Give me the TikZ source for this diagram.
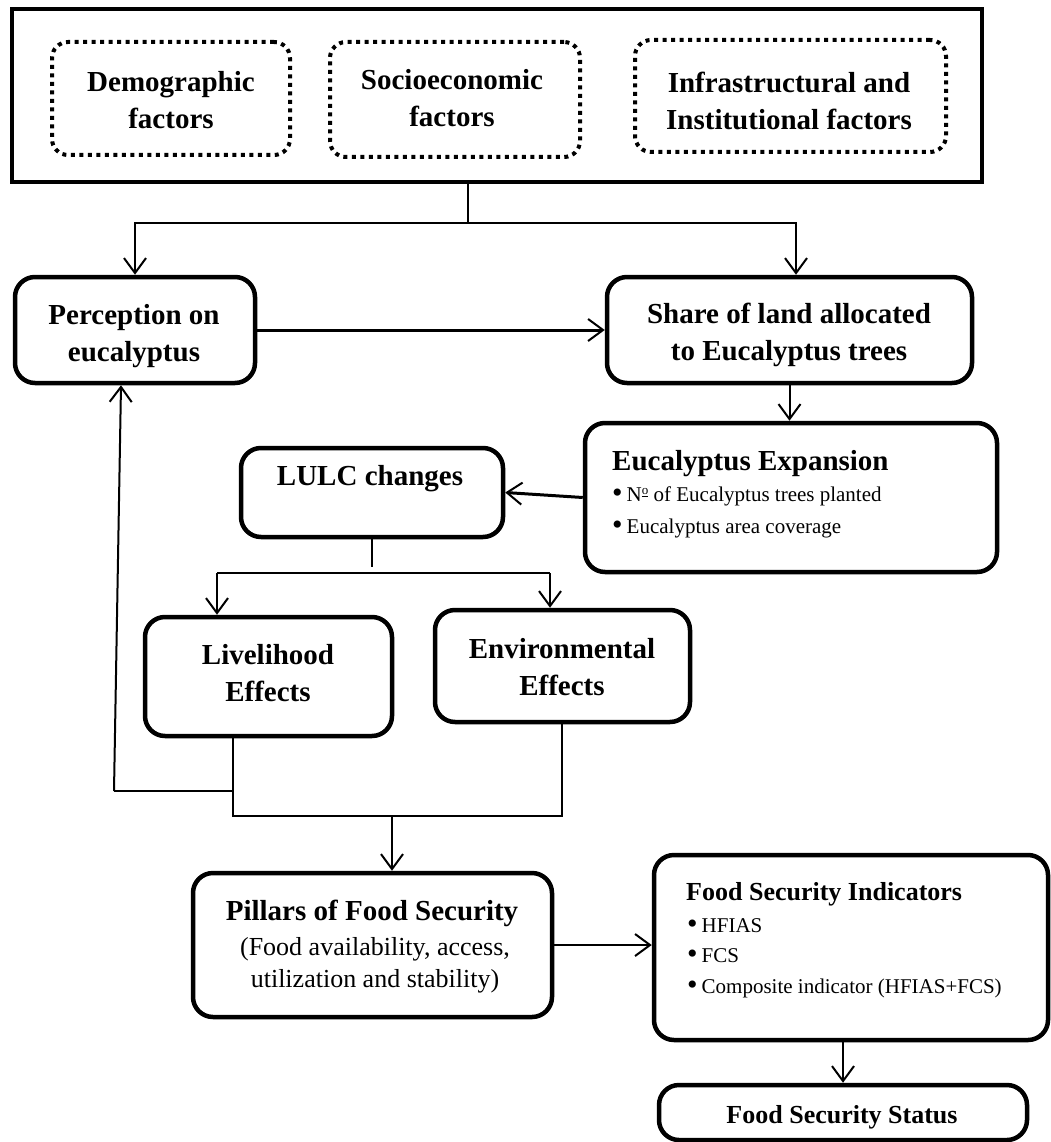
\documentclass[tikz,border=0pt]{standalone}
\usepackage{fontspec}
\setmainfont{Liberation Serif}
\usetikzlibrary{arrows.meta}
\newcommand{\bul}{\raisebox{-1pt}{\fontsize{30}{30}\selectfont\textbullet}\hspace{4pt}}
\newcommand{\numsign}{N\raisebox{6.5pt}{\fontsize{13}{13}\selectfont\underline{o}}}
\begin{document}
\begin{tikzpicture}[x=1pt,y=-1pt,
  frame/.style={draw, line width=4.5pt, inner sep=0pt},
  factor/.style={draw, line width=4pt, dash pattern=on 4pt off 4.5pt,
    rounded corners=16pt, inner sep=0pt},
  box/.style={draw, line width=4.5pt, rounded corners=20pt, inner sep=0pt},
  btxt/.style={inner sep=0pt, align=center, font=\bfseries\fontsize{29}{37}\selectfont},
  htxt/.style={inner sep=0pt, align=left, font=\bfseries\fontsize{26}{32}\selectfont},
  rtxt/.style={inner sep=0pt, align=center, font=\fontsize{26}{32}\selectfont},
  item/.style={inner sep=0pt, anchor=west, font=\fontsize{21}{26}\selectfont},
  link/.style={line width=2pt},
  arr/.style={line width=2pt, -{Straight Barb[length=15pt,width=22pt,line width=2pt]}},
  thickarr/.style={arr, line width=3pt}
]
\useasboundingbox (0,0) rectangle (1051,1142);
\clip (0,0) rectangle (1051,1142);

% drivers
\node[frame, minimum width=970, minimum height=173] (drivers) at (497,95.5) {};
\node[factor, minimum width=238, minimum height=113] (demo) at (171,98.5) {};
\node[factor, minimum width=250, minimum height=115] (socio) at (455,99.5) {};
\node[factor, minimum width=311, minimum height=112] (infra) at (790.5,96) {};
\node[btxt] (demot) at (171,100) {Demographic\\factors};
\node[btxt] (sociot) at (452,98) {Socioeconomic\\factors};
\node[btxt] (infrat) at (789,100.5) {Infrastructural and\\Institutional factors};

% first row
\node[box, minimum width=240, minimum height=106] (perc) at (135,330) {};
\node[btxt] (perct) at (134,336) {Perception on\\eucalyptus};
\node[box, minimum width=365, minimum height=106] (share) at (789.5,330) {};
\node[btxt] (sharet) at (789,334.5) {Share of land allocated\\to Eucalyptus trees};

% expansion and land use
\node[box, minimum width=412, minimum height=149] (exp) at (791,497.5) {};
\node[btxt, anchor=west] (expt) at (612,464) {Eucalyptus Expansion};
\node[item] (exp1) at (612,496) {\bul \numsign{} of Eucalyptus trees planted};
\node[item] (exp2) at (612,528) {\bul Eucalyptus area coverage};
\node[box, minimum width=262, minimum height=89] (lulc) at (372,492.5) {};
\node[btxt] (lulct) at (370,479) {LULC changes};

% effects
\node[box, minimum width=247, minimum height=119] (liv) at (268.5,676.5) {};
\node[btxt] (livt) at (268,673.5) {Livelihood\\Effects};
\node[box, minimum width=255, minimum height=112] (env) at (562.5,666) {};
\node[btxt] (envt) at (562,667) {Environmental\\Effects};

% food security
\node[box, minimum width=359, minimum height=144] (pill) at (372.5,945) {};
\node[btxt] (pillt) at (372,913) {Pillars of Food Security};
\node[rtxt] (pills) at (375,965) {(Food availability, access,\\utilization and stability)};
\node[box, minimum width=394, minimum height=185] (fsi) at (851,947.5) {};
\node[htxt, anchor=west] (fsit) at (686,894) {Food Security Indicators};
\node[item] (fsi1) at (687,926) {\bul HFIAS};
\node[item] (fsi2) at (687,956) {\bul FCS};
\node[item] (fsi3) at (687,988) {\bul Composite indicator (HFIAS+FCS)};
\node[box, minimum width=368, minimum height=55] (stat) at (843,1112.5) {};
\node[htxt] (statt) at (842,1117) {Food Security Status};

% connectors
\coordinate (split) at (468,223);
\draw[link] (drivers.south -| split) -- (split);
\draw[arr] (split) -| (perc.north);
\draw[arr] (split) -| ([xshift=6.5pt]share.north);
\draw[thickarr] (perc.east) -- (share.west);
\draw[arr] (share.south) -- (share.south |- exp.north);
\draw[thickarr] (exp.west) -- (lulc.east);
\draw[link] (lulc.south) -- ++(0,28);
\coordinate (bl) at (217,573);
\coordinate (br) at (550,573);
\draw[link] (bl) -- (br);
\draw[arr] (bl) -- (bl |- liv.north);
\draw[arr] (br) -- (br |- env.north);
\coordinate (m1) at (233,816);
\coordinate (m2) at (562,816);
\coordinate (m3) at (392,816);
\draw[link] (m1 |- liv.south) -- (m1) -- (m2) -- (m2 |- env.south);
\draw[arr] (m3) -- (m3 |- pill.north);
\coordinate (fb) at (114,791);
\draw[link] (m1 |- fb) -- (fb);
\draw[arr] (fb) -- ([xshift=-14pt]perc.south);
\draw[arr] (pill.east) -- (pill.east -| fsi.west);
\draw[arr] (stat.north |- fsi.south) -- (stat.north);
\end{tikzpicture}
\end{document}
